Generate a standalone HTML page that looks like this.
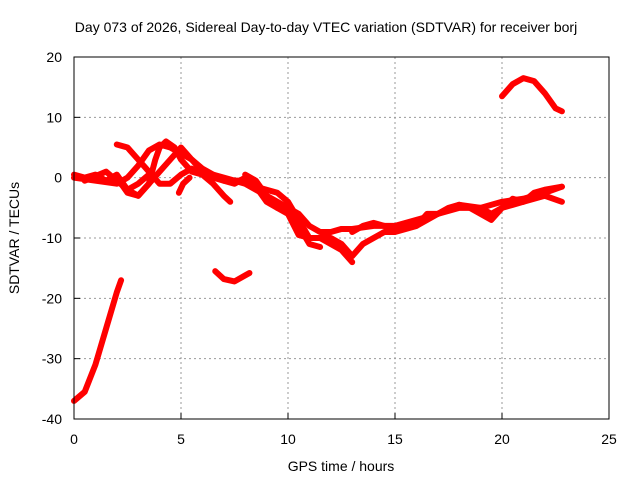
<!DOCTYPE html>
<html><head><meta charset="utf-8"><style>
body{margin:0;background:#fff}
svg text{font-family:"Liberation Sans",sans-serif;font-size:14px;fill:#000}
</style></head><body>
<svg id="chart" width="640" height="480">
<text x="326" y="32" text-anchor="middle">Day 073 of 2026, Sidereal Day-to-day VTEC variation (SDTVAR) for receiver borj</text>
<g id="grid"></g><g id="axes"></g><g id="series"></g>
<rect x="74" y="57" width="535" height="362" fill="none" stroke="#000" stroke-width="1"/>
<text x="341" y="471" text-anchor="middle">GPS time / hours</text>
<text transform="translate(19,238) rotate(-90)" text-anchor="middle">SDTVAR / TECUs</text>
</svg>
<script>
const xTicks=[0,5,10,15,20,25];
const yTicks=[20,10,0,-10,-20,-30,-40];
const s1=[[0,-37],[0.5,-35.5],[1,-31],[1.5,-25],[2,-19],[2.2,-17]];
const s2=[[6.6,-15.5],[7,-16.8],[7.5,-17.2],[8,-16.2],[8.2,-15.8]];
const s3=[[20,13.5],[20.5,15.5],[21,16.5],[21.5,16],[22,14],[22.5,11.5],[22.8,11]];
const t1=[[0,0],[1,-0.5],[2,-1],[2.5,0],[3,2],[3.5,4.5],[4,5.5],[4.5,5],[5,4],[5.5,3],[6,1.5],[6.5,0.5],[7,0],[7.5,-0.5],[8,-1],[8.5,-2],[9,-3],[9.5,-4],[10,-5],[10.5,-6],[11,-8],[11.5,-9],[12,-9],[12.5,-8.5],[13,-8.5],[14,-8],[15,-8],[16,-7],[17,-6],[18,-5],[19,-5],[20,-4],[21,-3.5],[22,-2.5],[22.8,-1.5]];
const t2=[[2,5.5],[2.5,5],[3,3],[3.5,1],[4,-1],[4.5,-1],[5,0.5],[5.5,1.5],[6,0.5],[6.5,-1],[7,-3],[7.3,-4]];
const t3=[[0.5,-0.5],[1.5,1],[2.5,-2],[3,-3],[3.5,-1],[4,1],[4.5,3],[5,5],[5.5,3],[6,1],[6.5,0],[7,-0.5],[8,-0.5],[8.5,-1.5],[9,-2],[9.5,-2.5],[10,-4],[10.5,-7],[11,-10],[11.5,-10],[12,-11],[12.5,-12],[13,-14]];
const t4=[[2,0],[2.5,-2.5],[3,-3],[3.5,-1],[3.8,3],[4,5],[4.3,6],[4.7,5],[5,3],[5.5,1],[6,0.5],[6.5,0.5],[7,-0.5],[7.5,-1],[8,0],[8.5,-1.5],[9,-4],[9.5,-5],[10,-5.5],[10.5,-8],[11,-11],[11.5,-11.5]];
const t5=[[8,0.5],[8.5,-0.5],[9,-3],[9.5,-5],[10,-6],[10.5,-9.5],[11,-10],[12,-10],[12.5,-11],[13,-13],[13.5,-11],[14,-10],[14.5,-9],[15,-9],[16,-8],[17,-6],[18,-4.5],[18.5,-5],[19,-6],[19.5,-7],[20,-5],[20.5,-4.5],[21,-4],[22,-3],[22.8,-4]];
const t6=[[13,-9],[13.5,-8],[14,-7.5],[15,-8.5],[16,-8],[16.5,-6],[17,-6],[17.5,-5],[18,-4.5],[19,-5],[19.5,-6],[20,-5],[20.5,-3.5],[21,-4],[21.5,-2.5],[22,-2],[22.8,-1.5]];
const t7=[[0,0.5],[0.5,0],[1,0.5],[1.5,-0.5],[2,0.5],[2.5,-2],[3,-1],[3.5,0.5]];
const t8=[[4.9,-2.5],[5.1,-1],[5.4,0]];
const allSeries=[s1,s2,s3,t1,t2,t3,t4,t5,t6,t7,t8];
const X=h=>74+h*21.4, Y=v=>57+(20-v)*6.0333;
const NS="http://www.w3.org/2000/svg";
const grid=document.getElementById('grid'),axes=document.getElementById('axes'),ser=document.getElementById('series');
function mk(tag,a,p){const e=document.createElementNS(NS,tag);for(const k in a)e.setAttribute(k,a[k]);p.appendChild(e);return e;}
xTicks.forEach(t=>{
 if(t>0&&t<25){const g=mk('line',{x1:X(t),x2:X(t),y1:57,y2:419,stroke:'#999','stroke-dasharray':'2,3'},grid);
 
 }
 const tk=mk('line',{x1:X(t),x2:X(t),y1:419,y2:413,stroke:'#000'},axes);
 
 
 const l=mk('text',{x:X(t),y:444,'text-anchor':'middle'},axes);l.textContent=t;
 
 
});
yTicks.forEach(t=>{
 if(t<20&&t>-40){const g=mk('line',{x1:74,x2:609,y1:Y(t),y2:Y(t),stroke:'#999','stroke-dasharray':'2,3'},grid);
 
 }
 const tk=mk('line',{x1:74,x2:80,y1:Y(t),y2:Y(t),stroke:'#000'},axes);
 
 
 const l=mk('text',{x:62,y:Y(t)+5,'text-anchor':'end'},axes);l.textContent=t;
 
 
});
allSeries.forEach((s,i)=>{
 const p=mk('polyline',{points:s.map(d=>X(d[0])+','+Y(d[1])).join(' '),fill:'none',stroke:'#f00','stroke-width':6,'stroke-linejoin':'round','stroke-linecap':'round'},ser);
 
 
});
</script>
</body></html>
